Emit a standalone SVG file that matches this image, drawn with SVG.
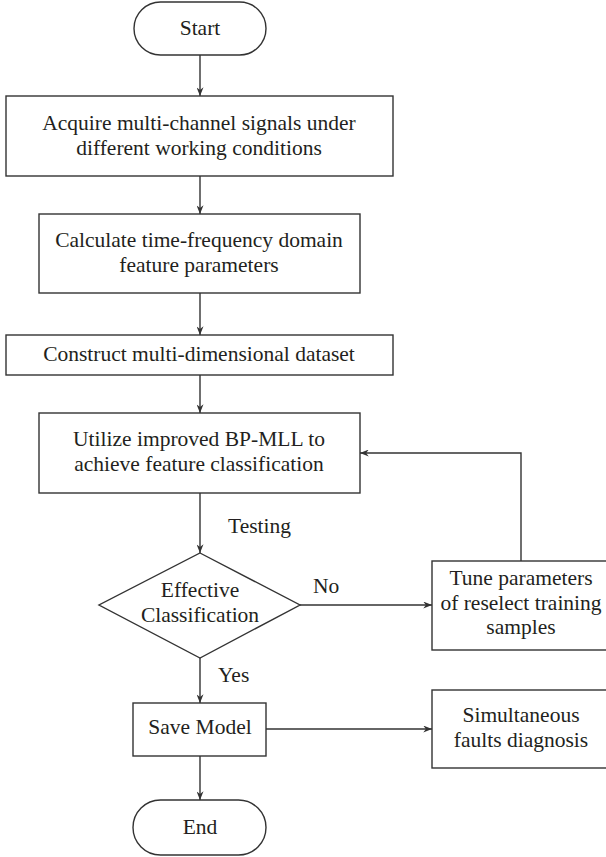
<svg xmlns="http://www.w3.org/2000/svg" width="606" height="857" viewBox="0 0 606 857">
<style>
.n{fill:#fff;stroke:#333;stroke-width:1.4}
.c{fill:none;stroke:#333;stroke-width:1.4}
text{font-family:"Liberation Serif","Times New Roman",serif;font-size:21.5px;fill:#231f20;text-anchor:middle}
.l{text-anchor:start}
</style>
<defs>
<marker id="ah" viewBox="0 0 10 8" refX="10" refY="4" markerWidth="9" markerHeight="7" markerUnits="userSpaceOnUse" orient="auto">
<path d="M0,0 L10,4 L0,8 L3,4 z" fill="#333"/>
</marker>
</defs>
<rect width="606" height="857" fill="#fff"/>
<g id="connectors">
<line class="c" x1="200" y1="55" x2="200" y2="96" marker-end="url(#ah)"/>
<line class="c" x1="200" y1="176" x2="200" y2="214" marker-end="url(#ah)"/>
<line class="c" x1="200" y1="293" x2="200" y2="335" marker-end="url(#ah)"/>
<line class="c" x1="200" y1="375" x2="200" y2="413" marker-end="url(#ah)"/>
<line class="c" x1="200" y1="493" x2="200" y2="553" marker-end="url(#ah)"/>
<line class="c" x1="300" y1="605" x2="432" y2="605" marker-end="url(#ah)"/>
<polyline class="c" points="521,561 521,453 360,453" marker-end="url(#ah)"/>
<line class="c" x1="200" y1="658" x2="200" y2="703" marker-end="url(#ah)"/>
<line class="c" x1="266" y1="729" x2="432" y2="729" marker-end="url(#ah)"/>
<line class="c" x1="200" y1="756" x2="200" y2="800" marker-end="url(#ah)"/>
<text class="l" x="228" y="533">Testing</text>
<text class="l" x="313" y="593">No</text>
<text class="l" x="218" y="682">Yes</text>
</g>
<g id="start">
<rect class="n" x="134" y="2" width="132" height="53" rx="26.5"/>
<text x="200" y="35">Start</text>
</g>
<g id="acquire">
<rect class="n" x="6" y="96" width="387" height="80"/>
<text x="199" y="130">Acquire multi-channel signals under</text>
<text x="199" y="155">different working conditions</text>
</g>
<g id="calculate">
<rect class="n" x="39" y="214" width="321" height="79"/>
<text x="199" y="247">Calculate time-frequency domain</text>
<text x="199" y="272">feature parameters</text>
</g>
<g id="construct">
<rect class="n" x="6" y="335" width="387" height="40"/>
<text x="199" y="361">Construct multi-dimensional dataset</text>
</g>
<g id="utilize">
<rect class="n" x="39" y="413" width="321" height="80"/>
<text x="199" y="446">Utilize improved BP-MLL to</text>
<text x="199" y="471">achieve feature classification</text>
</g>
<g id="decision">
<polygon class="n" points="200,553 300,605 200,658 99,605"/>
<text x="200" y="597">Effective</text>
<text x="200" y="622">Classification</text>
</g>
<g id="tune">
<rect class="n" x="432" y="561" width="178" height="89"/>
<text x="521" y="585">Tune parameters</text>
<text x="521" y="610">of reselect training</text>
<text x="521" y="634">samples</text>
</g>
<g id="save">
<rect class="n" x="133" y="703" width="133" height="53"/>
<text x="200" y="734">Save Model</text>
</g>
<g id="simultaneous">
<rect class="n" x="432" y="690" width="178" height="78"/>
<text x="521" y="722">Simultaneous</text>
<text x="521" y="747">faults diagnosis</text>
</g>
<g id="end">
<rect class="n" x="133" y="800" width="133" height="55" rx="27.5"/>
<text x="200" y="834">End</text>
</g>
</svg>
